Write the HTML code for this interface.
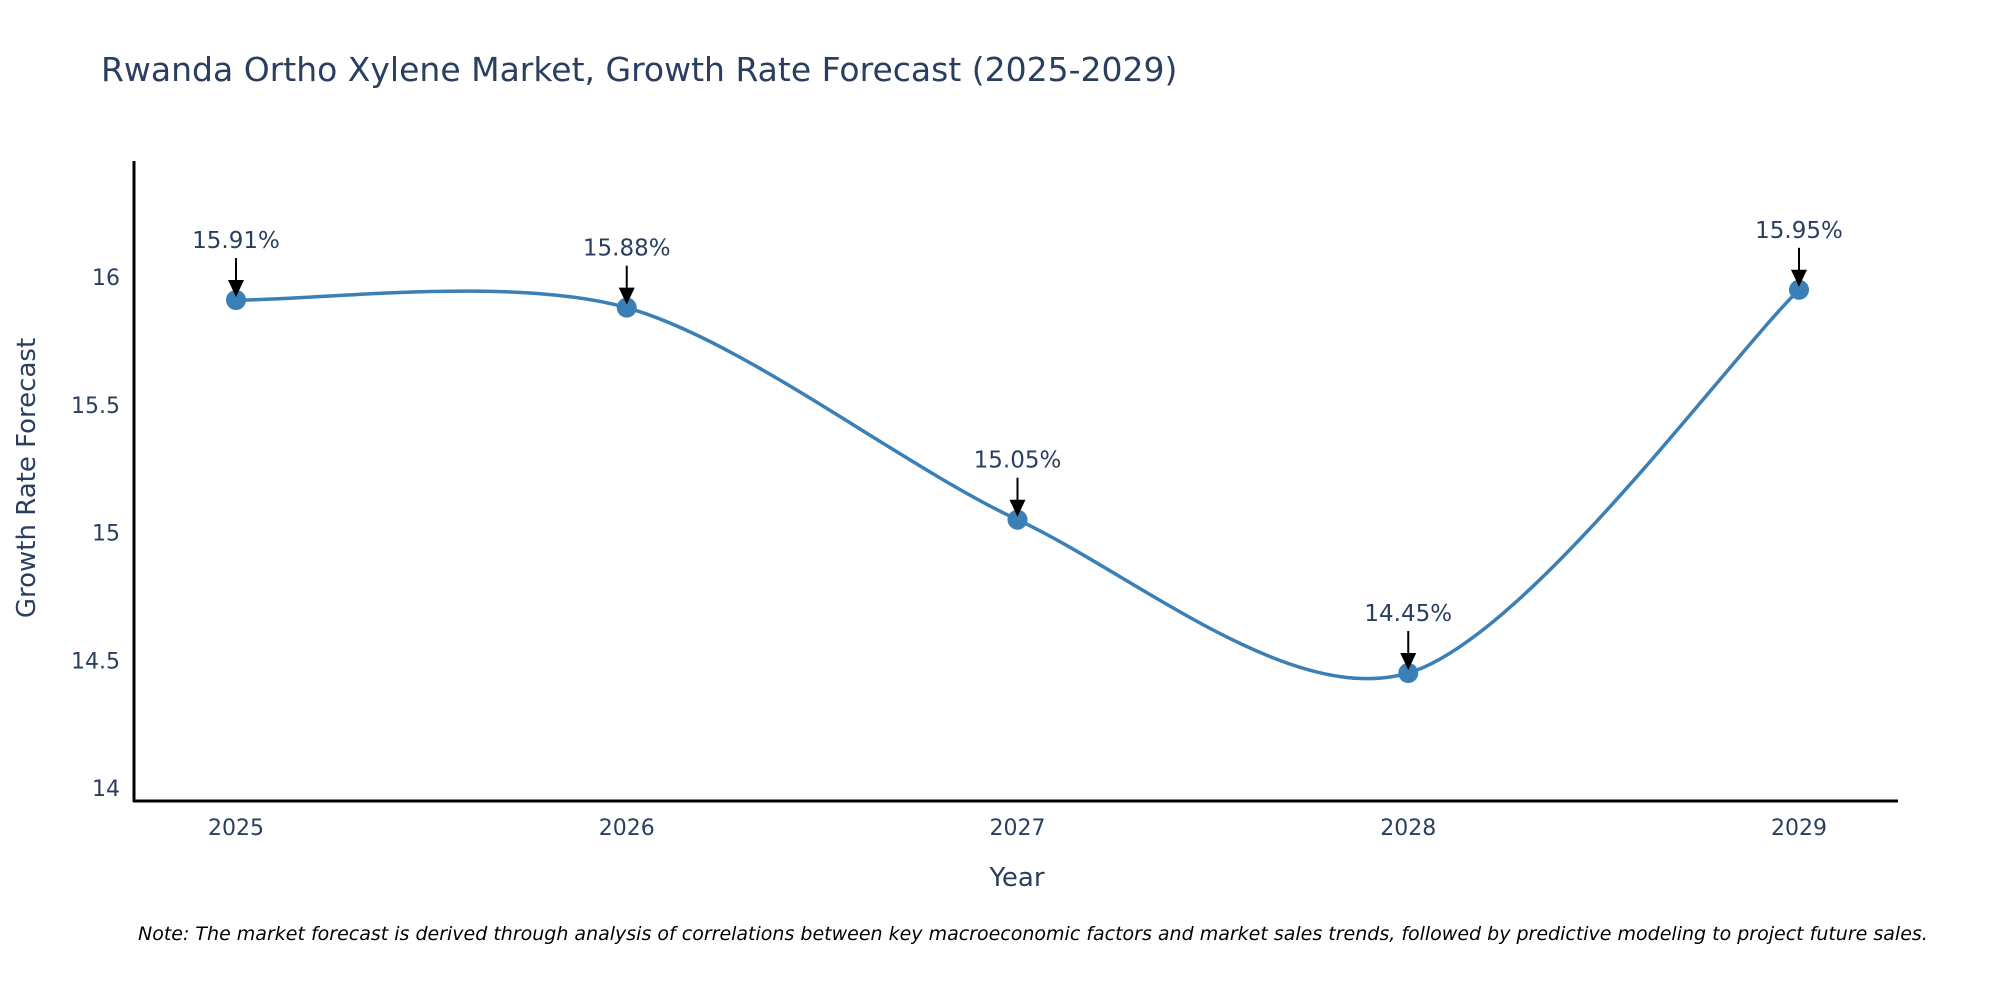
<!DOCTYPE html>
<html><head><meta charset="utf-8"><style>
body{margin:0;background:#fff;}
svg{display:block;font-family:"DejaVu Sans","Liberation Sans",sans-serif;}
</style></head><body>
<svg id="chart" width="2000" height="1000" xmlns="http://www.w3.org/2000/svg">
<text x="101" y="81" font-size="33" fill="#2a3f5f">Rwanda Ortho Xylene Market, Growth Rate Forecast (2025-2029)</text>
<g id="yticks"></g>
<g id="xticks"></g>
<path id="series" fill="none" stroke="#3a7fb5" stroke-width="3.5"/>
<g id="marks"></g>
<line x1="134" y1="161" x2="134" y2="802" stroke="#000" stroke-width="3"/>
<line x1="133" y1="801" x2="1898" y2="801" stroke="#000" stroke-width="3"/>
<text x="1017" y="886" font-size="26" fill="#2a3f5f" text-anchor="middle">Year</text>
<text transform="translate(35,478) rotate(-90)" font-size="26" fill="#2a3f5f" text-anchor="middle">Growth Rate Forecast</text>
<text x="138" y="940" font-size="19" font-style="italic" fill="#000">Note: The market forecast is derived through analysis of correlations between key macroeconomic factors and market sales trends, followed by predictive modeling to project future sales.</text>
</svg>
<script>
const years = [2025, 2026, 2027, 2028, 2029];
const values = [15.91, 15.88, 15.05, 14.45, 15.95];
const labels = ["15.91%", "15.88%", "15.05%", "14.45%", "15.95%"];
const yTicks = [14, 14.5, 15, 15.5, 16];
const yTickLabels = ["14", "14.5", "15", "15.5", "16"];

const NS = "http://www.w3.org/2000/svg";
function xS(v){ return 236 + (v - 2025) * 390.75; }
function yS(v){ return 788 - (v - 14) * 255.5; }
function mk(tag, attrs, parent){ const e = document.createElementNS(NS, tag); for (const k in attrs) e.setAttribute(k, attrs[k]); parent.appendChild(e); return e; }

const yg = document.getElementById('yticks');
yTicks.forEach((t, i) => {
  const e = mk('text', {x: 120, y: yS(t) + 8, 'font-size': 22, fill: '#2a3f5f', 'text-anchor': 'end'}, yg);
  
  
  e.textContent = yTickLabels[i];
});
const xg = document.getElementById('xticks');
years.forEach(y => {
  const e = mk('text', {x: xS(y), y: 835, 'font-size': 22, fill: '#2a3f5f', 'text-anchor': 'middle'}, xg);
  
  
  e.textContent = String(y);
});

const pts = years.map((y, i) => [xS(y), yS(values[i])]);
let d = 'M' + pts[0][0] + ',' + pts[0][1];
const s = 0.3;
for (let i = 0; i < pts.length - 1; i++) {
  const p0 = pts[Math.max(i - 1, 0)], p1 = pts[i], p2 = pts[i + 1], p3 = pts[Math.min(i + 2, pts.length - 1)];
  const a = i === 0 ? 1.2 : 1, b = i === pts.length - 2 ? 1.2 : 1;
  const c1 = [p1[0] + (p2[0] - p0[0]) * s / 2 * a, p1[1] + (p2[1] - p0[1]) * s / 2 * a];
  const c2 = [p2[0] - (p3[0] - p1[0]) * s / 2 * b, p2[1] - (p3[1] - p1[1]) * s / 2 * b];
  d += ' C' + c1.join(',') + ' ' + c2.join(',') + ' ' + p2.join(',');
}
document.getElementById('series').setAttribute('d', d);

const mg = document.getElementById('marks');
pts.forEach((p, i) => {
  const c = mk('circle', {cx: p[0], cy: p[1], r: 10, fill: '#3a7fb5'}, mg);
  
  
  const l = mk('line', {x1: p[0], y1: p[1] - 42, x2: p[0], y2: p[1] - 16, stroke: '#000', 'stroke-width': 2}, mg);
  
  
  const h = mk('polygon', {points: (p[0]-8)+','+(p[1]-20)+' '+(p[0]+8)+','+(p[1]-20)+' '+p[0]+','+(p[1]-3), fill: '#000'}, mg);
  
  
  const t = mk('text', {x: p[0], y: p[1] - 52, 'font-size': 23, fill: '#2a3f5f', 'text-anchor': 'middle'}, mg);
  
  
  t.textContent = labels[i];
});
</script>
</body></html>
